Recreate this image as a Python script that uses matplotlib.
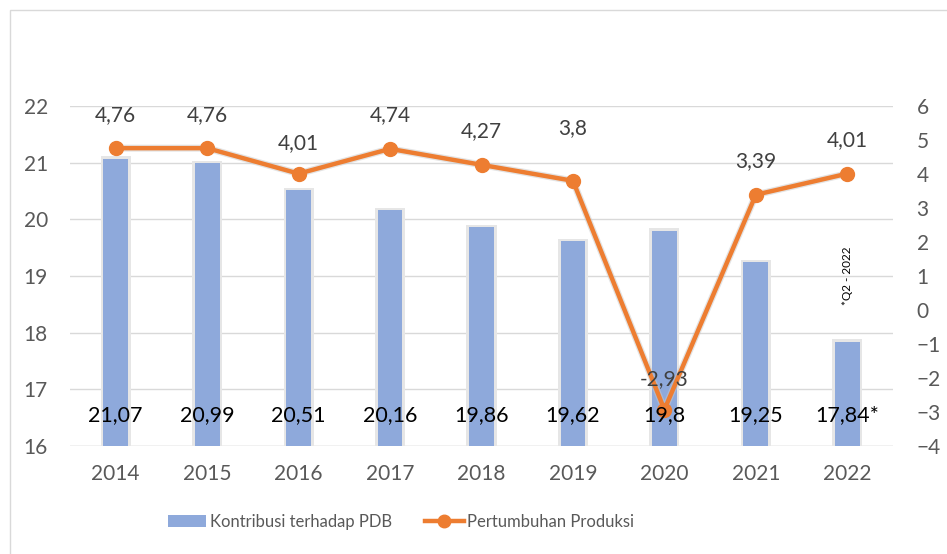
import numpy as np
import matplotlib.pyplot as plt
from matplotlib.patches import Rectangle
from matplotlib.lines import Line2D
from matplotlib.patches import Patch

plt.rcParams['font.family'] = ['Lato', 'DejaVu Sans']

years = ['2014', '2015', '2016', '2017', '2018', '2019', '2020', '2021', '2022']
kontribusi = [21.07, 20.99, 20.51, 20.16, 19.86, 19.62, 19.8, 19.25, 17.84]
kontribusi_labels = ['21,07', '20,99', '20,51', '20,16', '19,86', '19,62', '19,8', '19,25', '17,84*']
pertumbuhan = [4.76, 4.76, 4.01, 4.74, 4.27, 3.8, -2.93, 3.39, 4.01]
pertumbuhan_labels = ['4,76', '4,76', '4,01', '4,74', '4,27', '3,8', '-2,93', '3,39', '4,01']

blue = '#8EA9DB'
orange = '#ED7D31'
grey = '#595959'

fig = plt.figure(figsize=(9.47, 5.54), dpi=100)
ax = fig.add_axes([70 / 947, 1 - 446 / 554, 823 / 947, 340 / 554])
ax2 = ax.twinx()

x = np.arange(len(years))

# bars with a soft shadow
ax.bar(x, np.array(kontribusi) - 16 + 0.04, bottom=16, width=0.33, color='#e6e6e6', zorder=2)
ax.bar(x, np.array(kontribusi) - 16, bottom=16, width=0.27, color=blue, zorder=3)

ax.set_ylim(16, 22)
ax.set_yticks(range(16, 23))
ax.set_xlim(-0.5, len(years) - 0.5)
ax.set_xticks(x)
ax.set_xticklabels(years)
ax.grid(axis='y', color='#d9d9d9', linewidth=1, zorder=0)
ax.set_axisbelow(True)

# line on secondary axis
ax2.plot(x, pertumbuhan, color='#c8c8c8', linewidth=5, alpha=0.5, zorder=3)
ax2.plot(x, pertumbuhan, color=orange, linewidth=3.2, marker='o', markersize=10,
         solid_capstyle='round', zorder=4)
offsets = [24, 24, 22, 24, 24, 38, 22, 24, 24]
for xi, v, lab, off in zip(x, pertumbuhan, pertumbuhan_labels, offsets):
    ax2.annotate(lab, (xi, v), xytext=(0, off), textcoords='offset points',
                 ha='center', va='center', fontsize=15, color='#404040', zorder=6)
ax2.set_ylim(-4, 6)
ax2.set_yticks(range(-4, 7))

# bar value labels drawn on top of everything (left-axis value 16.55)
label_y = -4 + (16.55 - 16) * 10 / 6
for xi, lab in zip(x, kontribusi_labels):
    ax2.text(xi, label_y, lab, ha='center', va='center', fontsize=15.5,
             color='black', zorder=7)

ax2.text(8, 1.0, '*Q2 - 2022', rotation=90, ha='center', va='center', fontsize=8.5,
         color='black')

for a in (ax, ax2):
    for s in a.spines.values():
        s.set_visible(False)
    a.tick_params(length=0, labelsize=15, colors=grey)
ax.tick_params(axis='y', pad=16)
ax2.tick_params(axis='y', pad=17)
ax.tick_params(axis='x', pad=13)
ax.axhline(16, color='#d9d9d9', linewidth=1, zorder=1)

handles = [Patch(facecolor=blue, edgecolor='none'),
           Line2D([0], [0], color=orange, linewidth=3.2, marker='o', markersize=9)]
fig.legend(handles, ['Kontribusi terhadap PDB', 'Pertumbuhan Produksi'],
           loc='center', bbox_to_anchor=(401 / 947, 1 - 522 / 554), ncol=2, frameon=False,
           fontsize=12, labelcolor=grey, handlelength=2.3, handletextpad=0.2,
           columnspacing=2.0)

fig.patches.append(Rectangle((10 / 947, -0.01), 0.995, 1 - 10 / 554 + 0.01,
                             transform=fig.transFigure, fill=False,
                             edgecolor='#d9d9d9', linewidth=1))

fig.savefig('out.png', dpi=100)
